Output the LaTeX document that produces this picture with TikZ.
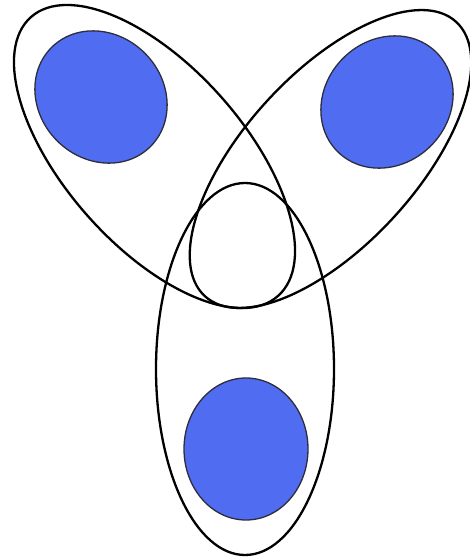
\documentclass[tikz,border=0pt]{standalone}
\usepackage{tikz}
\usetikzlibrary{shapes.geometric}
\definecolor{myblue}{RGB}{80,108,240}
\definecolor{myedge}{RGB}{45,45,60}
\tikzset{
  hull/.style={ellipse, draw=black, line width=2.3pt, inner sep=0pt, outer sep=0pt},
  blob/.style={ellipse, draw=myedge, fill=myblue, line width=1.3pt, inner sep=0pt}
}

\begin{document}
\begin{tikzpicture}[x=1pt, y=-1pt]
  \useasboundingbox (0,0) rectangle (470,560);
  % hyperedges
  \node[hull, minimum width=372.6pt, minimum height=178.8pt, rotate=-48.45] (lefthull) at (154.5,156.5) {};
  \node[hull, minimum width=372pt, minimum height=172pt, rotate=47.5] (righthull) at (330.5,159) {};
  \node[hull, minimum width=178pt, minimum height=372pt] (lowhull) at (245,369) {};
  % blue members
  \node[blob, minimum width=140pt, minimum height=124pt, rotate=-45] (topleft) at (101,97) {};
  \node[blob, minimum width=140pt, minimum height=124pt, rotate=45] (topright) at (387,102) {};
  \node[blob, minimum width=124pt, minimum height=142pt] (bottom) at (246,449) {};
\end{tikzpicture}
\end{document}
